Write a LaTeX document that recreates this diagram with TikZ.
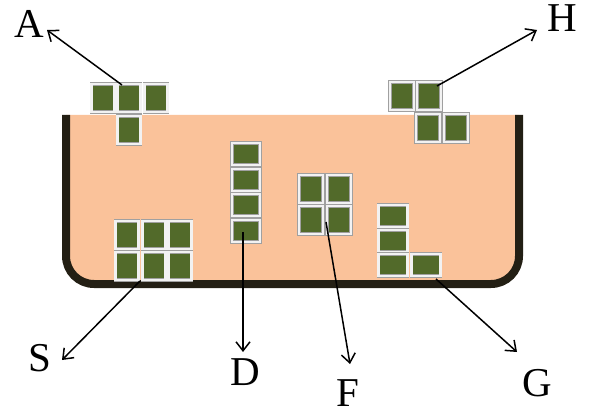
\documentclass[tikz,border=0pt]{standalone}
\usepackage{fontspec}
\setmainfont{Liberation Serif}
\usetikzlibrary{arrows.meta}
\definecolor{peach}{HTML}{FAC29A}
\definecolor{rim}{HTML}{231F14}
\definecolor{leaf}{HTML}{526A2A}
\definecolor{frame}{HTML}{F2F2F2}
\definecolor{frameedge}{HTML}{A0A0A0}
\tikzset{
  tile/.style={rectangle, inner sep=0pt, fill=leaf, draw=frameedge, line width=0.5pt,
    double=frame, double distance=2.6pt},
  lab/.style={font=\fontsize{41}{46}\selectfont, inner sep=0pt},
  arr/.style={line width=1.5pt, -{Straight Barb[length=9pt,width=14pt,line width=1.5pt]}}
}
\begin{document}
\begin{tikzpicture}[x=1pt,y=-1pt]
\useasboundingbox (0,0) rectangle (593,414);
% container fill
\fill[peach] (66,115) [rounded corners=28pt]-- (66,284) -- (519,284) [sharp corners]-- (519,115) -- cycle;
% container rim
\draw[rim, line width=8pt] (66,115) [rounded corners=28pt]-- (66,284) -- (519,284) -- (519,115);
% A group (T)
\begin{scope}[every node/.style={tile, minimum width=23pt, minimum height=28pt}]
\node (a1) at (103,98) {};
\node (a2) at (129,98) {};
\node (a3) at (156,98) {};
\node (a4) at (129,130) {};
\end{scope}
% H group (S)
\begin{scope}[every node/.style={tile, minimum width=24pt, minimum height=28pt}]
\node (h1) at (402,96) {};
\node (h2) at (429,96) {};
\node (h3) at (428,128) {};
\node (h4) at (456,128) {};
\end{scope}
% S group (2x3)
\begin{scope}[every node/.style={tile, minimum width=23pt, minimum height=28pt}]
\node (s1) at (127,235) {};
\node (s2) at (154,235) {};
\node (s3) at (180,235) {};
\node (s4) at (127,266) {};
\node (s5) at (154,266) {};
\node (s6) at (180,266) {};
\end{scope}
% D group (I)
\begin{scope}[every node/.style={tile, minimum width=28pt, minimum height=22pt}]
\node (d1) at (246,154) {};
\node (d2) at (246,180) {};
\node (d3) at (246,205) {};
\node (d4) at (246,231) {};
\end{scope}
% F group (O)
\begin{scope}[every node/.style={tile, minimum width=24pt, minimum height=28pt}]
\node (f1) at (311,189) {};
\node (f2) at (339,189) {};
\node (f3) at (311,220) {};
\node (f4) at (339,220) {};
\end{scope}
% G group (L)
\begin{scope}[every node/.style={tile, minimum width=29pt, minimum height=22pt}]
\node (g1) at (393,216) {};
\node (g2) at (393,241) {};
\node (g3) at (393,265) {};
\node (g4) at (426,265) {};
\end{scope}
% labels
\node[lab] (labA) at (29,24) {A};
\node[lab] (labH) at (562,18) {H};
\node[lab] (labS) at (40,358) {S};
\node[lab] (labD) at (245,372) {D};
\node[lab] (labF) at (348,393) {F};
\node[lab] (labG) at (537,383) {G};
% arrow ends
\coordinate (sA) at (122,85);   \coordinate (tA) at (47,30);
\coordinate (sH) at (437,86);   \coordinate (tH) at (537,30);
\coordinate (sS) at (140,281);  \coordinate (tS) at (62,360);
\coordinate (sD) at (243,232);  \coordinate (tD) at (243,352);
\coordinate (sF) at (326,222);  \coordinate (tF) at (350,364);
\coordinate (sG) at (436,279);  \coordinate (tG) at (517,352);
\draw[arr] (sA) -- (tA);
\draw[arr] (sH) -- (tH);
\draw[arr] (sS) -- (tS);
\draw[arr] (sD) -- (tD);
\draw[arr] (sF) -- (tF);
\draw[arr] (sG) -- (tG);
\end{tikzpicture}
\end{document}
